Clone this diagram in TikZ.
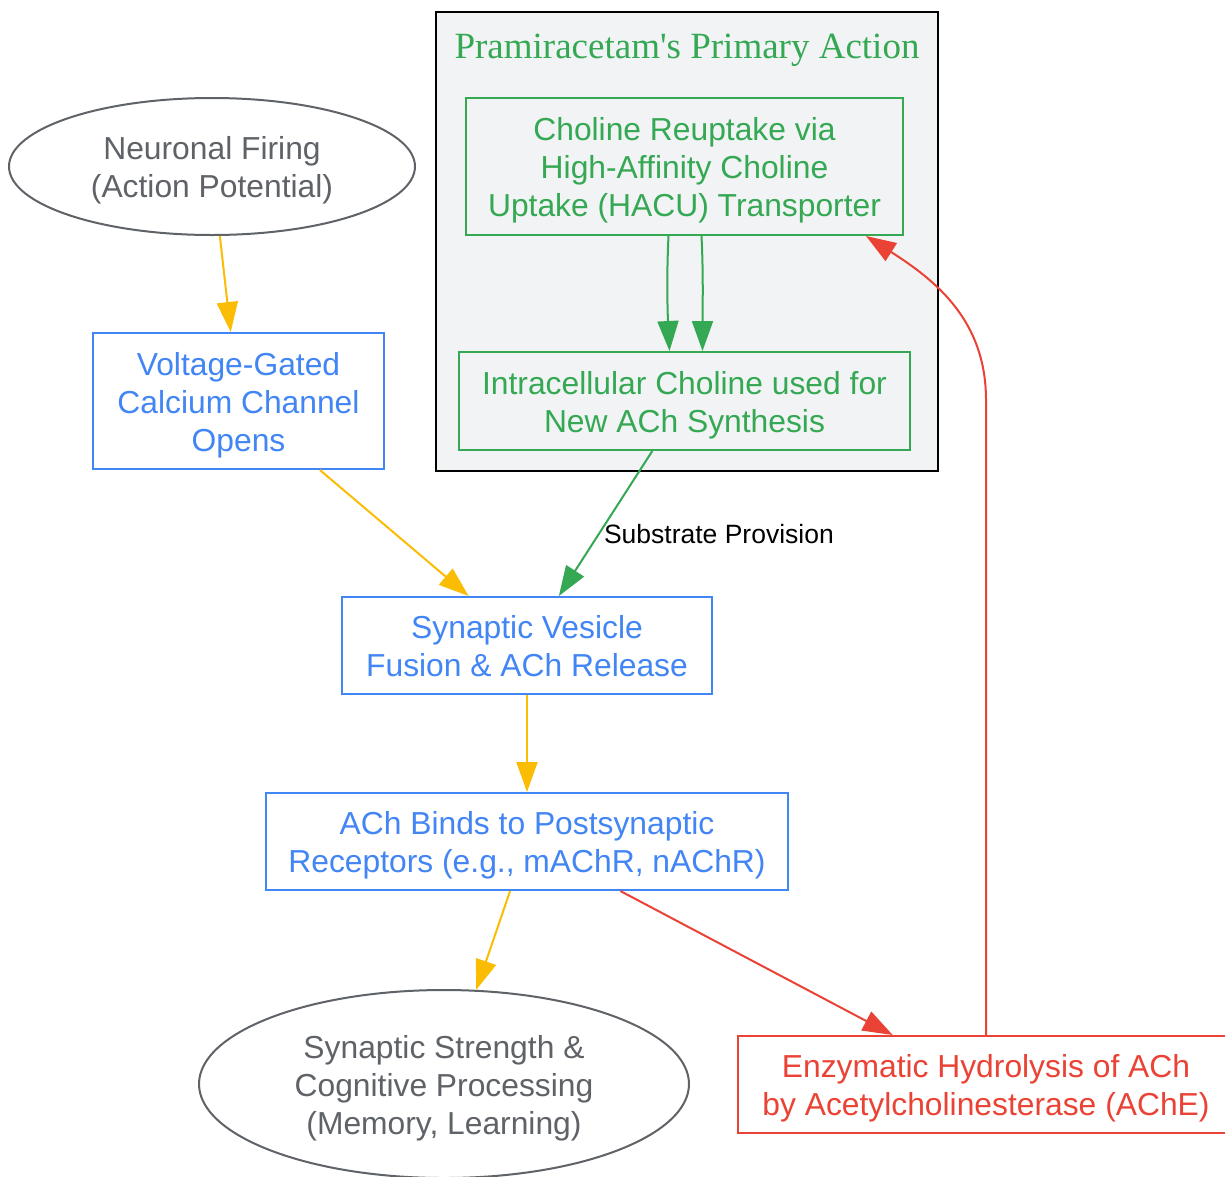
\documentclass[tikz,border=0pt]{standalone}
\usepackage{fontspec}
\setmainfont{Liberation Sans}
\newfontfamily\titlefont{Liberation Serif}
\usetikzlibrary{shapes.geometric,arrows.meta,calc}
\definecolor{gblue}{HTML}{4285F4}
\definecolor{ggreen}{HTML}{34A853}
\definecolor{gred}{HTML}{EA4335}
\definecolor{gyellow}{HTML}{FBBC04}
\definecolor{ggray}{HTML}{5F6368}
\definecolor{clfill}{HTML}{F1F3F4}
\tikzset{
  base/.style={line width=2pt, inner sep=0pt},
  txt/.style={font=\fontsize{31.8}{38}\selectfont, align=center, inner sep=0pt},
  bluebox/.style={base, draw=gblue, fill=white, rectangle},
  greenbox/.style={base, draw=ggreen, rectangle},
  redbox/.style={base, draw=gred, fill=white, rectangle},
  grayell/.style={base, draw=ggray, fill=white, ellipse},
  arr/.style={line width=2pt, -{Triangle[length=30pt,width=21pt]}},
  yarr/.style={arr, draw=gyellow},
  garr/.style={arr, draw=ggreen},
  rarr/.style={arr, draw=gred},
}
\begin{document}
\begin{tikzpicture}[x=1pt,y=-1pt]
\path[use as bounding box, fill=white] (0,0) rectangle (1225,1176);
% cluster
\node (cluster) [draw=black, line width=2pt, fill=clfill, minimum width=502pt, minimum height=459pt, inner sep=0pt] at (687,241.5) {};
\node (title) [font=\titlefont\fontsize{37}{44}\selectfont, text=ggreen, inner sep=0pt] at (687,50) {Pramiracetam's Primary Action};
% shapes
\node (fire) [grayell, minimum width=406pt, minimum height=137pt] at (212,166.5) {};
\node (vgcc) [bluebox, minimum width=291pt, minimum height=136pt] at (238.5,401) {};
\node (chol) [greenbox, minimum width=437pt, minimum height=137pt] at (684.5,166.5) {};
\node (intra) [greenbox, minimum width=451pt, minimum height=98pt] at (684.5,401) {};
\node (ves) [bluebox, minimum width=370pt, minimum height=97pt] at (527,645.5) {};
\node (bind) [bluebox, minimum width=522pt, minimum height=97pt] at (527,841.5) {};
\node (cog) [grayell, minimum width=490pt, minimum height=188pt] at (444,1084) {};
\node (enz) [redbox, minimum width=496pt, minimum height=97pt] at (986,1084.5) {};
% texts
\node (fire-t) [txt, text=ggray] at ($(fire)+(0,4)$) {Neuronal Firing\\(Action Potential)};
\node (vgcc-t) [txt, text=gblue] at ($(vgcc)+(0,4)$) {Voltage-Gated\\Calcium Channel\\Opens};
\node (chol-t) [txt, text=ggreen] at ($(chol)+(0,4)$) {Choline Reuptake via\\High-Affinity Choline\\Uptake (HACU) Transporter};
\node (intra-t) [txt, text=ggreen] at ($(intra)+(0,4)$) {Intracellular Choline used for\\New ACh Synthesis};
\node (ves-t) [txt, text=gblue] at ($(ves)+(0,1)$) {Synaptic Vesicle\\Fusion \& ACh Release};
\node (bind-t) [txt, text=gblue] at ($(bind)+(0,4)$) {ACh Binds to Postsynaptic\\Receptors (e.g., mAChR, nAChR)};
\node (cog-t) [txt, text=ggray] at ($(cog)+(0,4)$) {Synaptic Strength \&\\Cognitive Processing\\(Memory, Learning)};
\node (enz-t) [txt, text=gred] at ($(enz)+(0,4)$) {Enzymatic Hydrolysis of ACh\\by Acetylcholinesterase (AChE)};
% edges
\draw[yarr] (fire) -- (vgcc);
\draw[yarr] (vgcc) -- (ves);
\draw[garr] (intra) -- node[pos=0.57, anchor=west, inner sep=4pt, text=black, font=\fontsize{26.5}{32}\selectfont] (lbl) {Substrate Provision} (ves);
\draw[garr] ($(chol.south)+(-16,0)$) .. controls ($(chol.south)+(-18,40)$) and ($(intra.north)+(-17,-40)$) .. ($(intra.north)+(-15,0)$);
\draw[garr] ($(chol.south)+(17,0)$) .. controls ($(chol.south)+(19,40)$) and ($(intra.north)+(18,-40)$) .. ($(intra.north)+(18,0)$);
\draw[yarr] (ves) -- (bind);
\draw[yarr] (bind) -- (cog);
\draw[rarr] (bind) -- (enz);
\coordinate (up) at (986,400);
\draw[rarr] (enz.north) -- (up) .. controls (986,320) and (935,280) .. ($(chol.south east)+(-38,0)$);
\end{tikzpicture}
\end{document}
